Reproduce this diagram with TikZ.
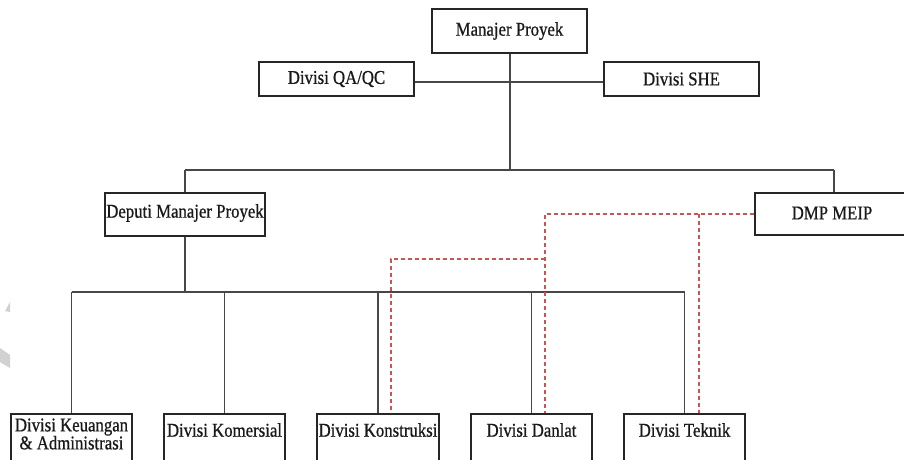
\documentclass[tikz,border=0pt]{standalone}
\usepackage{fontspec}
\setmainfont{Liberation Serif}[FakeStretch=0.86,FakeBold=0.7]
\begin{document}
\begin{tikzpicture}[x=1pt,y=-1pt,
  box/.style={draw=black!85,line width=1.9pt,fill=white,inner sep=0pt},
  lbl/.style={inner sep=0pt,font=\fontsize{19.5}{19}\selectfont,text=black!90,align=center},
  link/.style={draw=black!72,line width=1.8pt},
  redlink/.style={draw={rgb,255:red,200;green,85;blue,85},line width=1.3pt,dash pattern=on 4pt off 3pt}]
\useasboundingbox (0,0) rectangle (904,459);
\fill[white] (0,0) rectangle (904,459);
% faint watermark marks
\fill[black!18] (10,302) -- (10,312) -- (5,311) -- cycle;
\fill[black!18] (0,348) -- (10,355) -- (10,368) -- (0,362) -- cycle;

\coordinate (hq) at (510,82);
\coordinate (t1) at (185,170);
\coordinate (t2) at (834,170);
\coordinate (b1) at (71.5,292);
\coordinate (b2) at (684.5,292);

% boxes
\node[box,minimum width=155pt,minimum height=44pt] (mp) at (509.5,31) {};
\node[lbl] (mpt) at (509.5,31) {Manajer Proyek};
\node[box,minimum width=155pt,minimum height=34pt] (qa) at (336.5,79) {};
\node[lbl] (qat) at (336.5,79) {Divisi QA/QC};
\node[box,minimum width=155pt,minimum height=34pt] (she) at (681.5,79) {};
\node[lbl] (shet) at (681.5,79) {Divisi SHE};
\node[box,minimum width=160pt,minimum height=43pt] (dmp) at (185,214.5) {};
\node[lbl] (dmpt) at (185,213) {Deputi Manajer Proyek};
\node[box,minimum width=158pt,minimum height=42pt] (meip) at (834,214) {};
\node[lbl] (meipt) at (832,213) {DMP MEIP};

\node[box,minimum width=121pt,minimum height=60pt,anchor=north] (keu) at (71.5,413) {};
\node[lbl,font=\fontsize{19.5}{18}\selectfont] (keut) at (71.5,434) {Divisi Keuangan\\\& Administrasi};
\node[box,minimum width=121pt,minimum height=60pt,anchor=north] (kom) at (224.5,413) {};
\node[lbl] (komt) at (224.5,430) {Divisi Komersial};
\node[box,minimum width=122pt,minimum height=60pt,anchor=north] (kon) at (378,413) {};
\node[lbl] (kont) at (378,430) {Divisi Konstruksi};
\node[box,minimum width=121pt,minimum height=60pt,anchor=north] (dan) at (531.5,413) {};
\node[lbl] (dant) at (531.5,430) {Divisi Danlat};
\node[box,minimum width=121pt,minimum height=60pt,anchor=north] (tek) at (684.5,413) {};
\node[lbl] (tekt) at (684.5,430) {Divisi Teknik};

% solid connectors
\draw[link] (mp.south -| hq) -- (510,170);
\draw[link] (qa.east |- hq) -- (she.west |- hq);
\draw[link] (t1) -- (t2);
\draw[link] (t1) -- (dmp.north);
\draw[link] (t2) -- (meip.north -| t2);
\draw[link] (dmp.south) -- (185,292);
\draw[link] (b1) -- (b2);
\draw[link] (b1) -- (keu.north);
\draw[link] (224.5,292) -- (kom.north);
\draw[link] (378,292) -- (kon.north);
\draw[link] (531.5,292) -- (dan.north);
\draw[link] (b2) -- (tek.north);

% dashed red connectors
\coordinate (r1) at (545,214);
\coordinate (r2) at (545,259);
\coordinate (r3) at (699,214);
\draw[redlink] (meip.west |- r1) -- (r1) -- (r1 |- dan.north);
\draw[redlink] (r2) -| (391,413);
\draw[redlink] (r3) -- (r3 |- tek.north);
\end{tikzpicture}
\end{document}
